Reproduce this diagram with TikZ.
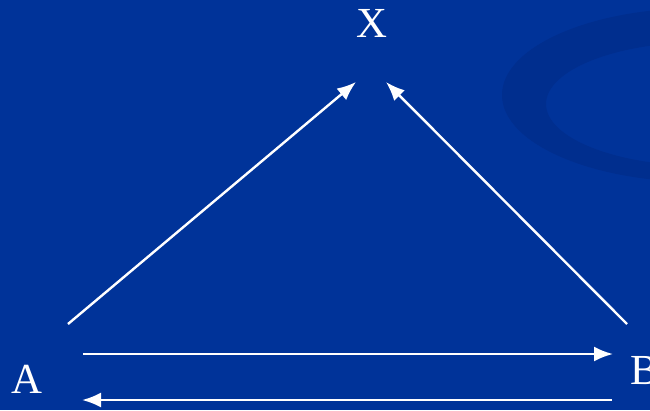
\documentclass[tikz,border=0pt]{standalone}
\usepackage{fontspec}
\setmainfont{Liberation Serif}
\usetikzlibrary{arrows.meta}
\definecolor{slideblue}{RGB}{0,51,153}
\definecolor{swoosh}{RGB}{0,46,142}
\begin{document}
\begin{tikzpicture}[x=1bp, y=-1bp, >={Latex[length=19bp,width=15bp]}, line width=2.4bp,
  every node/.style={text=white, font=\fontsize{43}{43}\selectfont, inner sep=0pt}]
  % background and swoosh
  \fill[slideblue] (0,0) rectangle (650,410);
  \begin{scope}
    \clip (0,0) rectangle (650,410);
    \fill[swoosh, even odd rule] (700,95) ellipse [x radius=198, y radius=87]
                                 (704,104) ellipse [x radius=158, y radius=62];
  \end{scope}
  \useasboundingbox (0,0) rectangle (650,410);
  % letters
  \node (X) at (372,23) {X};
  \node (A) at (27,379) {A};
  \node (B) at (645,371) {B};
  % arrow ends
  \coordinate (ax) at (68,324);
  \coordinate (xa) at (356,82);
  \coordinate (bx) at (627,324);
  \coordinate (xb) at (386,82);
  \coordinate (ab) at (83,354);
  \coordinate (ba) at (613,354);
  \coordinate (bb) at (612,400);
  \coordinate (aa) at (82,400);
  \draw[white, ->] (ax) -- (xa);
  \draw[white, ->] (bx) -- (xb);
  \draw[white, ->] (ab) -- (ba);
  \draw[white, ->] (bb) -- (aa);
\end{tikzpicture}
\end{document}
